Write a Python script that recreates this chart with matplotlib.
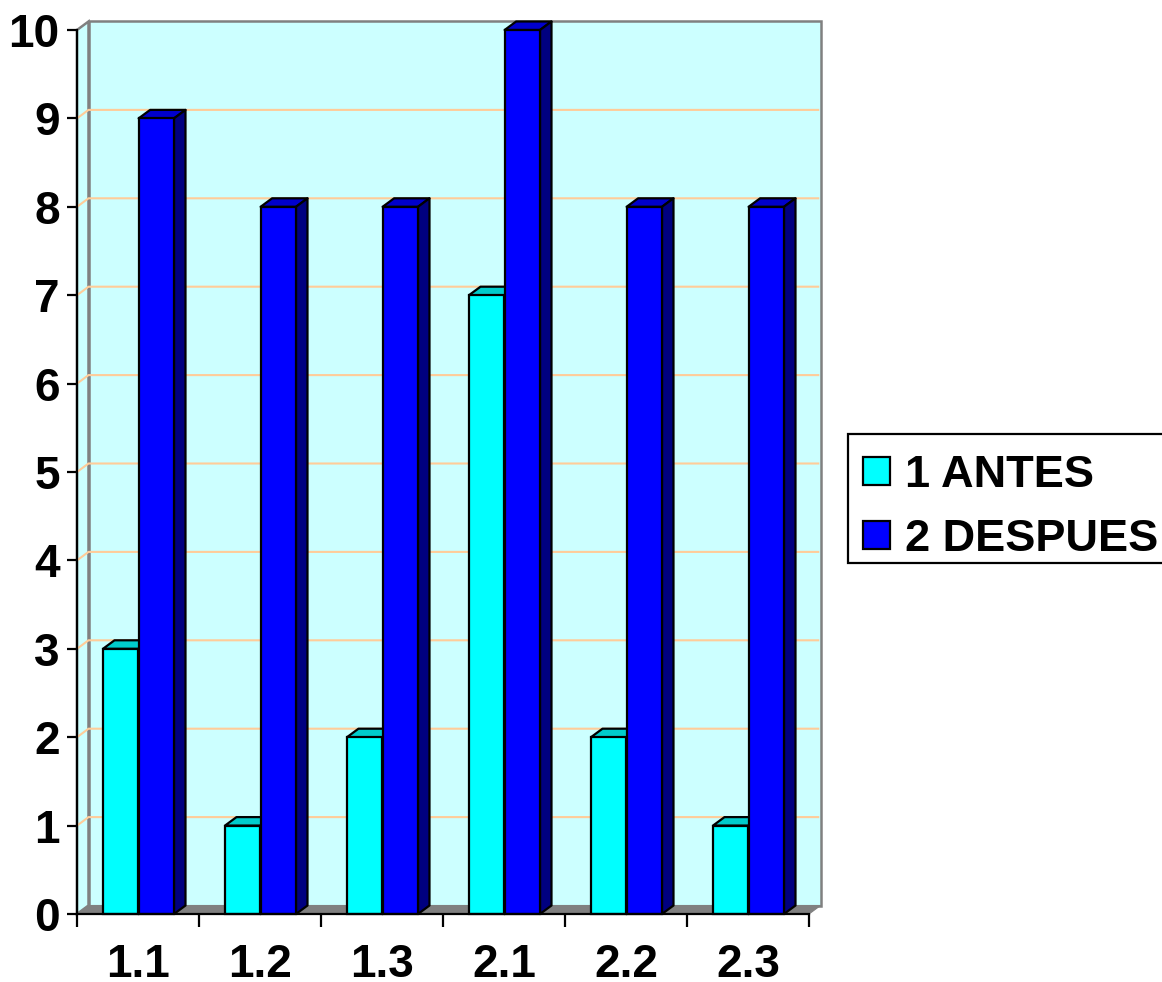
import matplotlib
matplotlib.use("Agg")
import matplotlib.pyplot as plt
from matplotlib.patches import Polygon, Patch, Rectangle

categories = ["1.1", "1.2", "1.3", "2.1", "2.2", "2.3"]
antes = [3, 1, 2, 7, 2, 1]
despues = [9, 8, 8, 10, 8, 8]
series_names = ["1 ANTES", "2 DESPUES"]
y_ticks = list(range(0, 11))

plt.rcParams['font.family'] = ['Liberation Sans', 'DejaVu Sans']
plt.rcParams['font.weight'] = 'bold'

W, H = 1162, 982
fig = plt.figure(figsize=(W / 100, H / 100), dpi=100)
ax = fig.add_axes([77 / W, (H - 914) / H, 732 / W, 884 / H])
ax.set_xlim(0, len(categories))
ax.set_ylim(0, 10)
ax.patch.set_visible(False)

# 3-D depth expressed in data units
DX = 11.5 / 122
DY = 8.5 / 88.4
n = len(categories)
LW = 1.6

# walls
ax.add_patch(Polygon([(DX, DY), (n + DX, DY), (n + DX, 10 + DY), (DX, 10 + DY)],
                     closed=True, fc="#CCFFFF", ec="#808080", lw=1.8, clip_on=False, zorder=1))
ax.add_patch(Polygon([(0, 0), (DX, DY), (DX, 10 + DY), (0, 10)],
                     closed=True, fc="#CCFFFF", ec="#808080", lw=1.8, clip_on=False, zorder=1))
ax.add_patch(Polygon([(0, 0), (n, 0), (n + DX, DY), (DX, DY)],
                     closed=True, fc="#808080", ec="#808080", lw=0.8, clip_on=False, zorder=1.5))

# gridlines on both walls
for v in y_ticks[1:-1]:
    ax.plot([0, DX, n + DX - 0.01], [v, v + DY, v + DY], color="#FFCC99", lw=1.5,
            clip_on=False, zorder=1.6, solid_capstyle="butt")

BAR_W = 0.29
OFF1, OFF2 = 0.213, 0.505


def bar3d(x, h, front, top, side, z):
    ax.bar(x, h, BAR_W, align="edge", color=front, edgecolor="black", lw=LW, zorder=z + 0.2, clip_on=False)
    r = x + BAR_W
    ax.add_patch(Polygon([(x, h), (r, h), (r + DX, h + DY), (x + DX, h + DY)], closed=True,
                         fc=top, ec="black", lw=LW, zorder=z, clip_on=False, joinstyle="round"))
    ax.add_patch(Polygon([(r, 0), (r + DX, DY), (r + DX, h + DY), (r, h)], closed=True,
                         fc=side, ec="black", lw=LW, zorder=z, clip_on=False, joinstyle="round"))


for i in range(n):
    bar3d(i + OFF1, antes[i], "#00FFFF", "#00CCCC", "#008080", 2 + i)
    bar3d(i + OFF2, despues[i], "#0000FF", "#0000CC", "#000080", 2.5 + i)

for s in ("top", "right"):
    ax.spines[s].set_visible(False)
for s in ("left", "bottom"):
    ax.spines[s].set_linewidth(LW)
    ax.spines[s].set_zorder(20)

ax.set_yticks(y_ticks)
ax.set_xticks(range(n + 1))
ax.set_xticklabels([""] * (n + 1))
ax.set_xticks([i + 0.5 for i in range(n)], categories, minor=True)
ax.tick_params(axis="y", length=7.5, width=LW, pad=5, labelsize=33)
ax.tick_params(axis="x", which="major", length=9, width=LW)
ax.tick_params(axis="x", which="minor", length=0, pad=21, labelsize=33)
for t in ax.get_xticklabels(minor=True) + ax.get_yticklabels():
    t.set_fontweight("bold")

# legend frame runs off the right edge of the picture
fig.add_artist(Rectangle((848 / W, (H - 563) / H), (W + 10 - 848) / W, 129 / H,
                         transform=fig.transFigure, fc="white", ec="black", lw=1.6))
handles = [Patch(fc="#00FFFF", ec="black", lw=1.6), Patch(fc="#0000FF", ec="black", lw=1.6)]
leg = fig.legend(handles, series_names, loc="upper left",
                 bbox_to_anchor=(863 / W, (H - 455) / H), bbox_transform=fig.transFigure,
                 fontsize=32.5, frameon=False, borderaxespad=0, handlelength=0.6, handleheight=0.6,
                 handletextpad=0.32, labelspacing=0.51, borderpad=0)
leg.set_zorder(5)

fig.savefig("out.png", dpi=100, facecolor="white")
